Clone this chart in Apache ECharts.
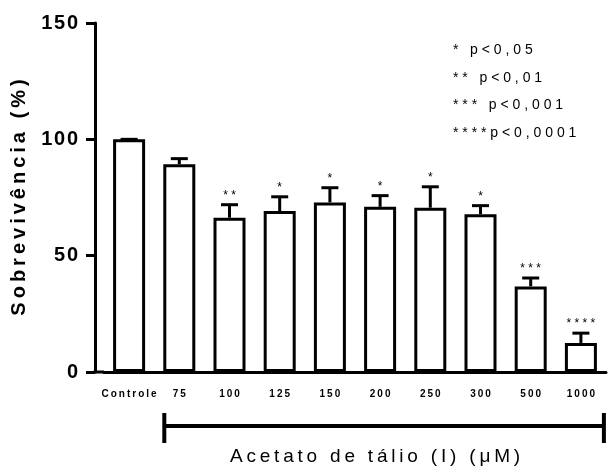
<!DOCTYPE html>
<html>
<head>
<meta charset="utf-8">
<script src="https://cdn.jsdelivr.net/npm/echarts@6/dist/echarts.min.js"></script>
<style>
  html, body { margin: 0; padding: 0; background: #fff; }
  #chart { width: 609px; height: 468px; }
</style>
</head>
<body>
<div id="chart"></div>
<script>
// concentrações de acetato de tálio (I)
var categories = ['Controle', '75', '100', '125', '150', '200', '250', '300', '500', '1000'];
// sobrevivência média (%)
var means = [100, 89.3, 66.3, 69.2, 72.9, 71.0, 70.6, 67.8, 36.8, 12.5];
// erro padrão
var sem = [0, 2.4, 5.6, 6.1, 6.3, 4.8, 9.0, 3.7, 3.6, 4.2];
// significância
var sig = ['', '', '**', '*', '*', '*', '*', '*', '***', '****'];
var yTicks = [0, 50, 100, 150];
var legendLines = ['* p<0,05', '** p<0,01', '*** p<0,001', '****p<0,0001'];

var FONT = '"Liberation Sans", Arial, sans-serif';
var THIN = '\u2009';

function spaced(s, gap) {
  return s.split('').join(gap);
}

var errData = [];
for (var i = 0; i < categories.length; i++) {
  errData.push([i, means[i], means[i] + sem[i]]);
}

var chart = echarts.init(document.getElementById('chart'));

var option = {
  animation: false,
  backgroundColor: '#fff',
  grid: { left: 104, right: 3, top: 23, bottom: 96 },
  xAxis: {
    type: 'category',
    data: categories,
    axisLine: { lineStyle: { color: '#000', width: 3 } },
    axisTick: { alignWithLabel: true, interval: 0, length: 9, lineStyle: { color: '#000', width: 3 } },
    axisLabel: {
      interval: 0,
      color: '#000', fontFamily: FONT, fontWeight: 'bold', fontSize: 10, margin: 17,
      formatter: function (v) { return spaced(v, THIN); }
    }
  },
  yAxis: {
    type: 'value',
    min: yTicks[0],
    max: yTicks[yTicks.length - 1],
    interval: 50,
    offset: 9,
    name: spaced('Sobrevivência (%)', THIN),
    nameLocation: 'middle',
    nameGap: 66,
    nameTextStyle: { color: '#000', fontFamily: FONT, fontWeight: 'bold', fontSize: 20 },
    splitLine: { show: false },
    axisLine: { show: true, lineStyle: { color: '#000', width: 3 } },
    axisTick: { show: true, length: 9, lineStyle: { color: '#000', width: 3 } },
    axisLabel: {
      color: '#000', fontFamily: FONT, fontWeight: 'bold', fontSize: 20, margin: 17,
      formatter: function (v) { return spaced(String(v), '\u200A'); }
    }
  },
  series: [
    {
      type: 'bar',
      data: means,
      barWidth: 32,
      itemStyle: { color: '#fff', borderColor: '#000', borderWidth: 3 }
    },
    {
      type: 'custom',
      data: errData,
      z: 5,
      renderItem: function (params, api) {
        var base = api.coord([api.value(0), api.value(1)]);
        var top = api.coord([api.value(0), api.value(2)]);
        var half = 8.5;
        return {
          type: 'group',
          children: [
            { type: 'line', shape: { x1: base[0], y1: base[1], x2: top[0], y2: top[1] },
              style: { stroke: '#000', lineWidth: 3 } },
            { type: 'line', shape: { x1: top[0] - half, y1: top[1], x2: top[0] + half, y2: top[1] },
              style: { stroke: '#000', lineWidth: 3 } },
            { type: 'text', x: top[0], y: top[1] - 3,
              style: { text: spaced(sig[params.dataIndex], ' '), align: 'center', verticalAlign: 'bottom',
                       fontSize: 12, fontFamily: FONT, fill: '#000' } }
          ]
        };
      }
    }
  ]
};

chart.setOption(option);

// legenda de significância, junção dos eixos e colchete das concentrações
var y0 = chart.convertToPixel({ yAxisIndex: 0 }, 0);
var cFirst = chart.convertToPixel({ xAxisIndex: 0 }, categories[1]);
var cLast = chart.convertToPixel({ xAxisIndex: 0 }, categories[categories.length - 1]);
var bx1 = cFirst - 15, bx2 = cLast + 23, by = 426;

var graphics = [
  { type: 'line', shape: { x1: 93.5, y1: y0, x2: 104, y2: y0 }, style: { stroke: '#000', lineWidth: 3 } },
  { type: 'line', shape: { x1: bx1, y1: by, x2: bx2, y2: by }, style: { stroke: '#000', lineWidth: 4 } },
  { type: 'line', shape: { x1: bx1, y1: by - 13, x2: bx1, y2: by + 17 }, style: { stroke: '#000', lineWidth: 4 } },
  { type: 'line', shape: { x1: bx2, y1: by - 13, x2: bx2, y2: by + 17 }, style: { stroke: '#000', lineWidth: 4 } },
  { type: 'text', x: 375, y: 457,
    style: { text: spaced('Acetato de tálio (I) (μM)', THIN), align: 'center', verticalAlign: 'middle',
             fontSize: 19, fontFamily: FONT, fill: '#000' } }
];
for (var k = 0; k < legendLines.length; k++) {
  graphics.push({
    type: 'text', x: 453, y: 50 + k * 27.7,
    style: { text: spaced(legendLines[k], ' '), align: 'left', verticalAlign: 'middle',
             fontSize: 14, fontFamily: FONT, fill: '#000' }
  });
}
chart.setOption({ graphic: graphics });
</script>
</body>
</html>
